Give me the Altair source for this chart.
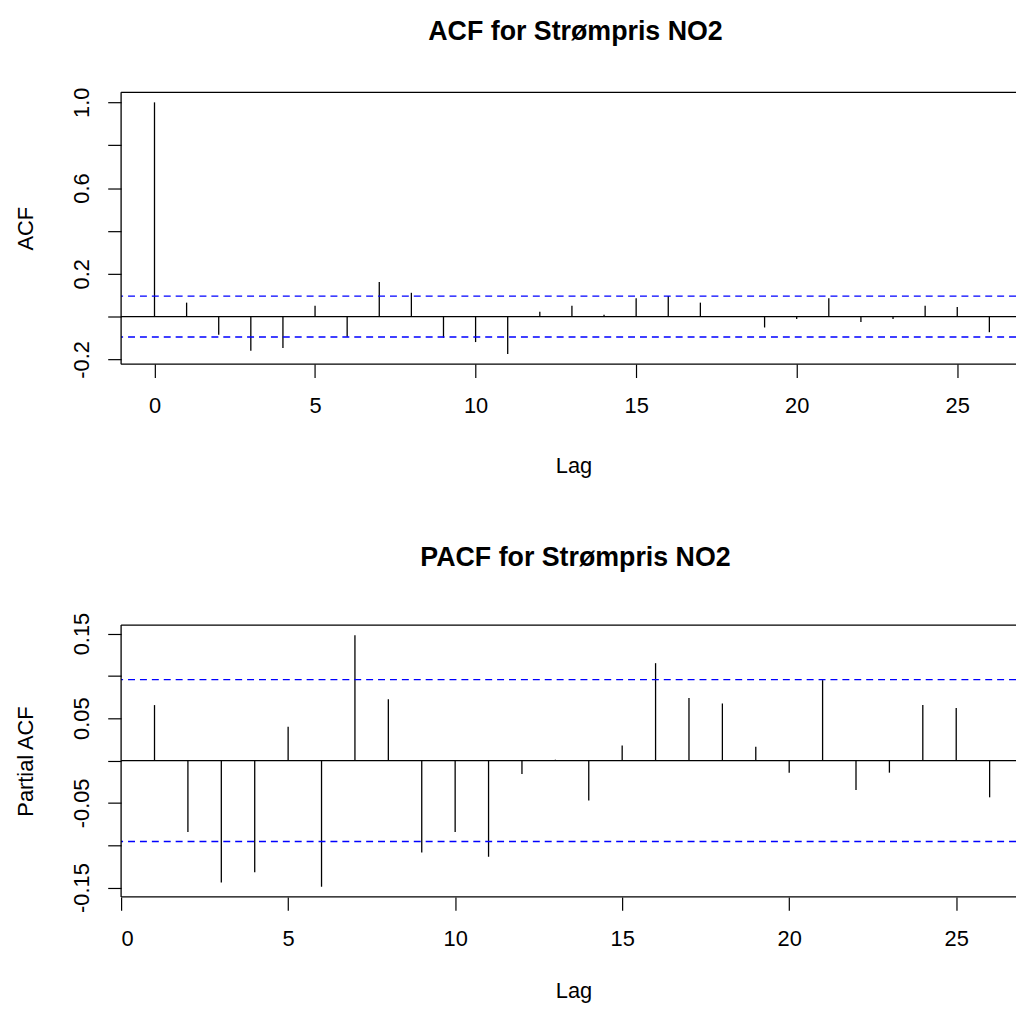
import altair as alt
import pandas as pd

# ---------------- data ----------------
ACF_LAGS = list(range(0, 27))
ACF_VALUES = [1.0, 0.065, -0.085, -0.159, -0.147, 0.051, -0.094, 0.161, 0.111,
              -0.099, -0.119, -0.175, 0.023, 0.051, 0.009, 0.085, 0.096, 0.065,
              -0.002, -0.051, -0.011, 0.085, -0.025, -0.011, 0.051, 0.045, -0.073]

PACF_LAGS = list(range(1, 27))
PACF_VALUES = [0.0655, -0.0845, -0.144, -0.132, 0.040, -0.149, 0.148, 0.0725,
               -0.1085, -0.0845, -0.1136, -0.0159, 0.001, -0.0473, 0.0178, 0.115,
               0.074, 0.0674, 0.0163, -0.0143, 0.095, -0.0349, -0.0143, 0.0655,
               0.062, -0.0434]

CLIM = 0.0956  # 95% confidence bound

X_TICKS = [0, 5, 10, 15, 20, 25]

ACF_YTICKS = [-0.2, 0.0, 0.2, 0.4, 0.6, 0.8, 1.0]
ACF_YLABEL_AT = [-0.2, 0.2, 0.6, 1.0]
ACF_YLABELS = ["-0.2", "0.2", "0.6", "1.0"]

PACF_YTICKS = [-0.15, -0.10, -0.05, 0.0, 0.05, 0.10, 0.15]
PACF_YLABEL_AT = [-0.15, -0.05, 0.05, 0.15]
PACF_YLABELS = ["-0.15", "-0.05", "0.05", "0.15"]

ACF_TITLE = "ACF for Strømpris NO2"
PACF_TITLE = "PACF for Strømpris NO2"

# ---------------- layout constants ----------------
W = 902
H = 274
FONT = "Liberation Sans"
FS = 22


def label_expr(at, labels):
    parts = [f"abs(datum.value - ({v})) < 1e-6 ? '{l}'" for v, l in zip(at, labels)]
    return " : ".join(parts) + " : ''"


def panel(lags, values, xdomain, ydomain, yticks, ylabel_at, ylabels, ytitle,
          title, title_offset, xtitle_y):
    df = pd.DataFrame({"lag": lags, "value": values, "base": [0.0] * len(lags)})
    xscale = alt.Scale(domain=xdomain, nice=False, zero=False)
    yscale = alt.Scale(domain=ydomain, nice=False, zero=False)

    xaxis = alt.Axis(values=X_TICKS, tickSize=13.5, labelPadding=18,
                     titleX=456, titleY=xtitle_y, titleBaseline="alphabetic",
                     titleAlign="center", labelFontSize=FS, titleFontSize=FS)
    yaxis = alt.Axis(values=yticks, tickSize=13.5, labelPadding=19.5,
                     labelAngle=270, labelAlign="center", labelBaseline="alphabetic",
                     labelExpr=label_expr(ylabel_at, ylabels),
                     titleX=-89, titleY=H / 2, titleAngle=270,
                     titleBaseline="alphabetic", titleAlign="center",
                     labelFontSize=FS, titleFontSize=FS)

    bars = alt.Chart(df).mark_rule(color="black", strokeWidth=1.3).encode(
        x=alt.X("lag:Q", scale=xscale, axis=xaxis, title="Lag"),
        y=alt.Y("value:Q", scale=yscale, axis=yaxis, title=ytitle),
        y2=alt.Y2("base:Q"),
    )

    zero = alt.Chart(pd.DataFrame({"value": [0.0]})).mark_rule(
        color="black", strokeWidth=1.2).encode(y=alt.Y("value:Q"))

    conf = alt.Chart(pd.DataFrame({"value": [CLIM, -CLIM]})).mark_rule(
        color="#0000ff", strokeWidth=1.4, strokeDash=[7, 5]).encode(y=alt.Y("value:Q"))

    one = pd.DataFrame({"k": [0]})
    top = alt.Chart(one).mark_rule(color="black", strokeWidth=1.3).encode(
        x=alt.value(0), x2=alt.value(W), y=alt.value(0))
    bottom = alt.Chart(one).mark_rule(color="black", strokeWidth=1.3).encode(
        x=alt.value(0), x2=alt.value(W), y=alt.value(H))
    left = alt.Chart(one).mark_rule(color="black", strokeWidth=1.3).encode(
        x=alt.value(0), y=alt.value(0), y2=alt.value(H))

    return alt.layer(bars, zero, conf, top, bottom, left).properties(
        width=W, height=H,
        title=alt.TitleParams(title, fontSize=27, fontWeight="bold", font=FONT,
                              anchor="middle", frame="group", baseline="alphabetic",
                              offset=title_offset, dx=7, color="black"),
    )


acf = panel(ACF_LAGS, ACF_VALUES, [-1.04, 26.83], [-0.222, 1.047], ACF_YTICKS,
            ACF_YLABEL_AT, ACF_YLABELS, "ACF", ACF_TITLE, 21, 109)
pacf = panel(PACF_LAGS, PACF_VALUES, [0, 26.79], [-0.161, 0.160], PACF_YTICKS,
             PACF_YLABEL_AT, PACF_YLABELS, "Partial ACF", PACF_TITLE, 20, 101)

chart = alt.vconcat(acf, pacf, spacing=68).properties(
    padding={"left": 7, "top": 5, "right": 0, "bottom": 0}
).configure_view(strokeWidth=0).configure_axis(
    labelFont=FONT, titleFont=FONT, labelColor="black", titleColor="black",
    tickColor="black", tickWidth=1.2, domain=False, grid=False,
    titleFontWeight="normal",
)

chart.save("out.html", embed_options={"renderer": "svg", "actions": False})
